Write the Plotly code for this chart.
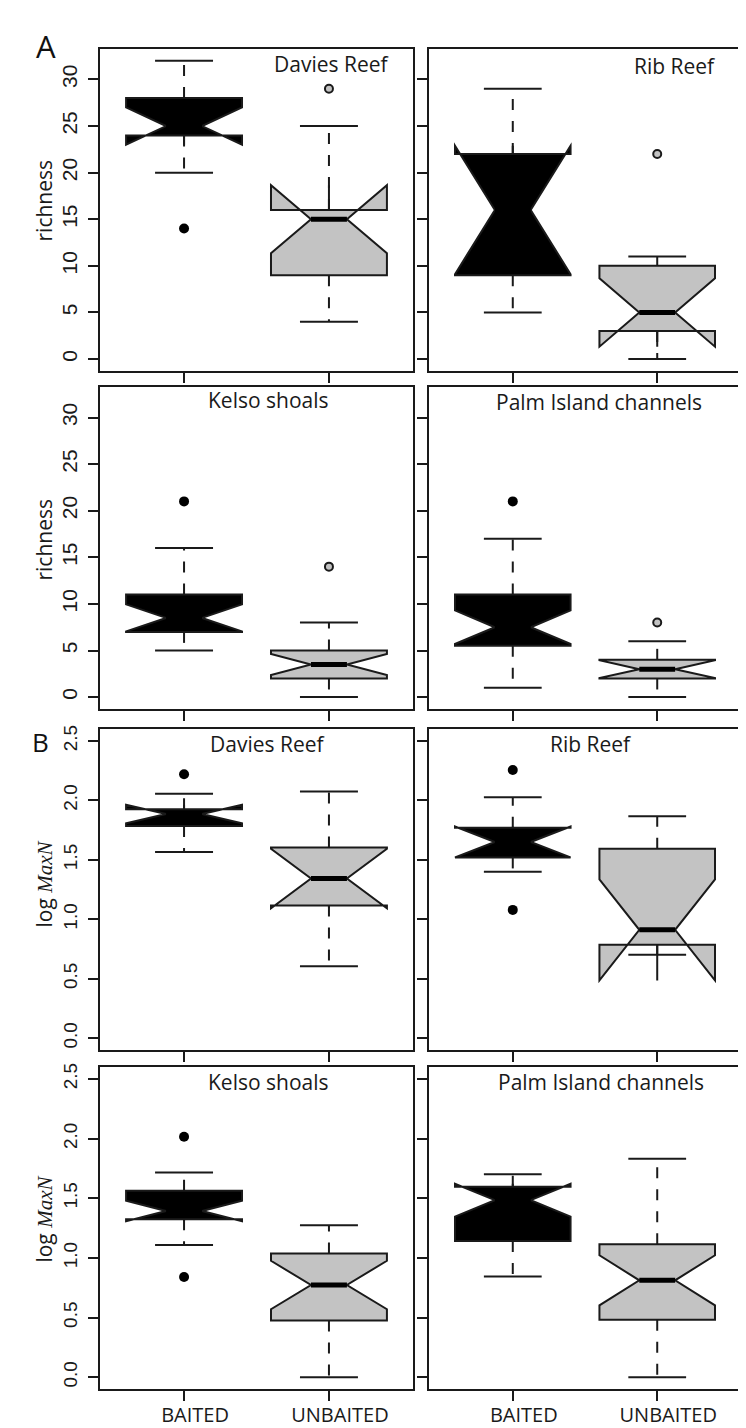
import plotly.graph_objects as go

W, H = 746, 1428
OFF = 8  # the page body margin shifts the figure by this many pixels

sites = ["Davies Reef", "Rib Reef", "Kelso shoals", "Palm Island channels"]
groups = ["BAITED", "UNBAITED"]

# ---- A: richness (per site: Davies, Rib, Kelso, Palm) ----
rich_b_lower = [20, 5, 5, 1]
rich_b_q1 = [24, 9, 7, 5.5]
rich_b_median = [25, 16, 8.5, 7.5]
rich_b_q3 = [28, 22, 11, 11]
rich_b_upper = [32, 29, 16, 17]
rich_b_notch = [2.0, 6.9, 1.45, 1.8]
rich_b_out = [[14], [], [21], [21]]

rich_u_lower = [4, 0, 0, 0]
rich_u_q1 = [9, 3, 2, 2]
rich_u_median = [15, 5, 3.5, 3]
rich_u_q3 = [16, 10, 5, 4]
rich_u_upper = [25, 11, 8, 6]
rich_u_notch = [3.65, 3.67, 1.13, 0.95]
rich_u_out = [[29], [22], [14], [8]]

# ---- B: log MaxN ----
maxn_b_lower = [1.565, 1.399, 1.109, 0.845]
maxn_b_q1 = [1.785, 1.52, 1.324, 1.142]
maxn_b_median = [1.885, 1.65, 1.394, 1.484]
maxn_b_q3 = [1.925, 1.77, 1.562, 1.596]
maxn_b_upper = [2.055, 2.026, 1.716, 1.702]
maxn_b_notch = [0.078, 0.13, 0.086, 0.138]
maxn_b_out = [[2.22], [2.255, 1.079], [2.016, 0.84], []]

maxn_u_lower = [0.605, 0.702, 0.0, 0.0]
maxn_u_q1 = [1.115, 0.786, 0.476, 0.482]
maxn_u_median = [1.343, 0.911, 0.773, 0.812]
maxn_u_q3 = [1.603, 1.594, 1.036, 1.114]
maxn_u_upper = [2.074, 1.867, 1.274, 1.831]
maxn_u_notch = [0.25, 0.425, 0.203, 0.21]
maxn_u_out = [[], [], [], []]

rich_ticks = [0, 5, 10, 15, 20, 25, 30]
maxn_ticks = [0.0, 0.5, 1.0, 1.5, 2.0, 2.5]

metrics = [
    dict(name="richness",
         b=(rich_b_lower, rich_b_q1, rich_b_median, rich_b_q3, rich_b_upper, rich_b_notch, rich_b_out),
         u=(rich_u_lower, rich_u_q1, rich_u_median, rich_u_q3, rich_u_upper, rich_u_notch, rich_u_out),
         yr=[-1.28, 33.28], ticks=rich_ticks, fmt="d"),
    dict(name="logmaxn",
         b=(maxn_b_lower, maxn_b_q1, maxn_b_median, maxn_b_q3, maxn_b_upper, maxn_b_notch, maxn_b_out),
         u=(maxn_u_lower, maxn_u_q1, maxn_u_median, maxn_u_q3, maxn_u_upper, maxn_u_notch, maxn_u_out),
         yr=[-0.1, 2.6], ticks=maxn_ticks, fmt=".1f"),
]

# layout geometry (screen pixels)
col_x = [(100, 413), (429, 741)]
row_y = [(45, 368), (384, 707), (727, 1049), (1066, 1389)]

BOXW = 0.8
NOTCHW = 0.345
CAPW = 0.4
FILL = {"BAITED": "black", "UNBAITED": "#c3c3c3"}
LINE = "#1a1a1a"
TXT = "Open Sans"
NUMF = "Liberation Sans Narrow, Liberation Sans, Arial Narrow, sans-serif"


def px_x(x):
    return (x - OFF) / W


def px_y(y):
    return 1 - (y - OFF) / H


fig = go.Figure()
layout = dict(width=W, height=H, margin=dict(l=0, r=0, t=0, b=0),
              paper_bgcolor="white", plot_bgcolor="white", showlegend=False,
              boxmode="overlay")

for mi, m in enumerate(metrics):
    for si in range(4):
        row = mi * 2 + si // 2
        col = si % 2
        k = row * 2 + col + 1
        xa = "x" if k == 1 else f"x{k}"
        ya = "y" if k == 1 else f"y{k}"

        wx, wy, cx, cy, mx, my = [], [], [], [], [], []
        for gi, g in enumerate(groups):
            lo, q1, med, q3, up, ns, out = m["b"] if gi == 0 else m["u"]
            pos = gi + 1
            fig.add_trace(go.Box(
                x=[pos], q1=[q1[si]], median=[med[si]], q3=[q3[si]],
                lowerfence=[q1[si]], upperfence=[q3[si]], notchspan=[ns[si]],
                notched=True, notchwidth=NOTCHW, width=BOXW, whiskerwidth=0,
                fillcolor=FILL[g], line=dict(color=LINE, width=2),
                boxpoints=False, hoverinfo="skip", xaxis=xa, yaxis=ya))
            wx += [pos, pos, None, pos, pos, None]
            wy += [q3[si], up[si], None, q1[si], lo[si], None]
            cx += [pos - CAPW / 2, pos + CAPW / 2, None, pos - CAPW / 2, pos + CAPW / 2, None]
            cy += [up[si], up[si], None, lo[si], lo[si], None]
            hw = BOXW / 2 * (1 - 2 * NOTCHW)
            mx += [pos - hw, pos + hw, None]
            my += [med[si], med[si], None]
            if out[si]:
                if g == "BAITED":
                    mk = dict(color="black", size=10, line=dict(width=0))
                else:
                    mk = dict(color="#c3c3c3", size=8, line=dict(color=LINE, width=2))
                fig.add_trace(go.Scatter(x=[pos] * len(out[si]), y=out[si], mode="markers",
                                         marker=mk, hoverinfo="skip", xaxis=xa, yaxis=ya))
        fig.add_trace(go.Scatter(x=wx, y=wy, mode="lines",
                                 line=dict(color=LINE, width=2, dash="11px,11px"),
                                 hoverinfo="skip", xaxis=xa, yaxis=ya))
        fig.add_trace(go.Scatter(x=cx, y=cy, mode="lines", line=dict(color=LINE, width=2),
                                 hoverinfo="skip", xaxis=xa, yaxis=ya))
        fig.add_trace(go.Scatter(x=mx, y=my, mode="lines", line=dict(color="black", width=5),
                                 hoverinfo="skip", xaxis=xa, yaxis=ya))

        x0, x1 = col_x[col]
        y0, y1 = row_y[row]
        axkey = "xaxis" if k == 1 else f"xaxis{k}"
        aykey = "yaxis" if k == 1 else f"yaxis{k}"
        layout[axkey] = dict(
            domain=[px_x(x0), px_x(x1)], anchor=ya, range=[0.42, 2.58],
            tickvals=[1, 2], ticktext=groups, showticklabels=(row == 3),
            ticks="outside", ticklen=10, tickwidth=2, tickcolor=LINE,
            showline=True, mirror=True, linewidth=2, linecolor=LINE,
            showgrid=False, zeroline=False,
            tickfont=dict(family=TXT, size=20, color="#1a1a1a"),
            ticklabelstandoff=-3, ticklabelshift=11)
        layout[aykey] = dict(
            domain=[px_y(y1), px_y(y0)], anchor=xa, range=m["yr"],
            tickvals=m["ticks"], tickformat=m["fmt"], showticklabels=(col == 0),
            tickangle=-90, ticks="outside", ticklen=10, tickwidth=2, tickcolor=LINE,
            showline=True, mirror=True, linewidth=2, linecolor=LINE,
            showgrid=False, zeroline=False,
            tickfont=dict(family=NUMF, size=21 if mi == 0 else 19, color="#1a1a1a"),
            ticklabelstandoff=3)

ann = []
title_pos = [(331, 60), (675, 62), (268, 397), (599, 399),
             (267, 742), (591, 742), (268, 1081), (601, 1081)]
for i, (tx, ty) in enumerate(title_pos):
    ann.append(dict(text=sites[i % 4], x=px_x(tx), y=px_y(ty), xref="paper", yref="paper",
                    xanchor="center", yanchor="middle", showarrow=False,
                    font=dict(family=TXT, size=21, color="#1a1a1a")))
ylab = [("richness", 197), ("richness", 537),
        ("log <span style=\"font-family:Liberation Serif,serif\"><i>MaxN</i></span>", 883),
        ("log <span style=\"font-family:Liberation Serif,serif\"><i>MaxN</i></span>", 1219)]
for t, ty in ylab:
    ann.append(dict(text=t, x=px_x(44), y=px_y(ty), xref="paper", yref="paper",
                    xanchor="center", yanchor="middle", textangle=-90, showarrow=False,
                    font=dict(family=TXT, size=21, color="#1a1a1a")))
ann.append(dict(text="A", x=px_x(46), y=px_y(42), xref="paper", yref="paper",
                xanchor="center", yanchor="middle", showarrow=False,
                font=dict(family=TXT, size=31, color="#111")))
ann.append(dict(text="B", x=px_x(40), y=px_y(740), xref="paper", yref="paper",
                xanchor="center", yanchor="middle", showarrow=False,
                font=dict(family=TXT, size=26, color="#111")))
layout["annotations"] = ann

fig.update_layout(**layout)
fig.write_html("out.html")
